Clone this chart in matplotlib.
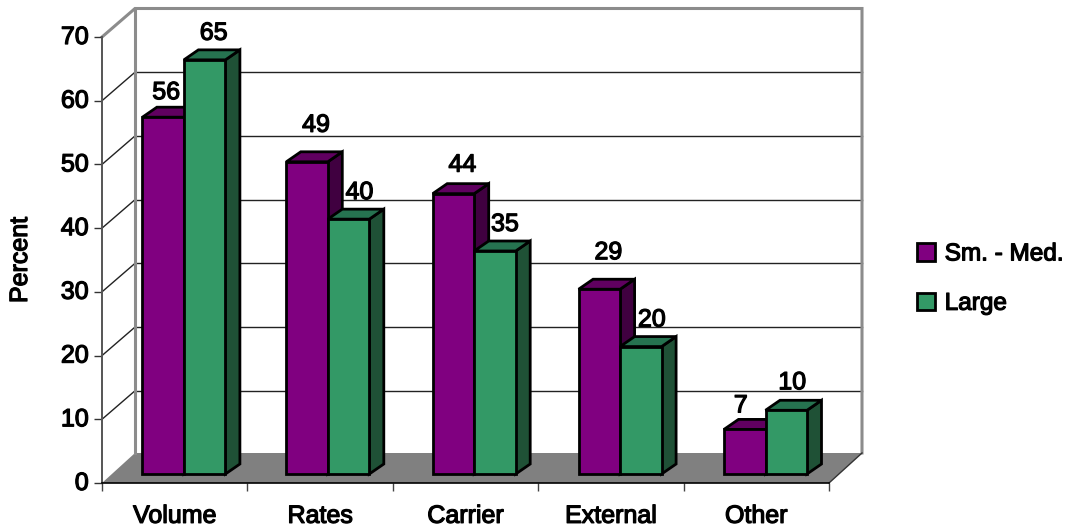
import matplotlib
matplotlib.use("Agg")
import matplotlib.pyplot as plt
from matplotlib.patches import Polygon, Rectangle, Patch
from matplotlib.text import Text
from matplotlib.transforms import ScaledTranslation
import matplotlib.patheffects as pe

# Survey results by category and company size
categories = ["Volume", "Rates", "Carrier", "External", "Other"]
small_medium = [56, 49, 44, 29, 7]
large = [65, 40, 35, 20, 10]
series_names = ["Sm. - Med.", "Large"]
y_ticks = [0, 10, 20, 30, 40, 50, 60, 70]

W, H = 1066, 529
plt.rcParams["font.family"] = ["Liberation Sans", "DejaVu Sans"]

fig = plt.figure(figsize=(W / 100, H / 100), dpi=100, facecolor="white")
ax = fig.add_axes([102 / W, (H - 483) / H, 727 / W, 446 / H])
ax.set_xlim(0, 5)
ax.set_ylim(0, 70)
ax.patch.set_alpha(0)

PX = 727 / 5      # pixels per category
PY = 446 / 70     # pixels per percent
WALL_DX, WALL_DY = 33 / PX, 28.5 / PY
FLOOR_DY = 30 / PY
BAR_OX, BAR_OY = 9.2 / PX, 9 / PY
BAR_DX, BAR_DY = 14.5 / PX, 10 / PY
BAR_W = 41.5 / PX
EDGE = "black"

# Floor and walls of the 3D box
ax.add_patch(Polygon([(0, 0), (WALL_DX, FLOOR_DY), (5 + WALL_DX, FLOOR_DY), (5, 0)],
                     closed=True, fc="#808080", ec="none", clip_on=False, zorder=1))
ax.plot([5, 5 + WALL_DX], [0, FLOOR_DY], color="#333333", lw=1, clip_on=False, zorder=2)
for v in y_ticks[1:-1]:
    ax.plot([WALL_DX, 5 + WALL_DX], [v + WALL_DY] * 2, color="#222222", lw=1,
            clip_on=False, zorder=1)
    ax.plot([0, WALL_DX], [v, v + WALL_DY], color="#222222", lw=1, clip_on=False, zorder=1)
WALL = "#8c8c8c"
ax.plot([0, WALL_DX, 5 + WALL_DX, 5 + WALL_DX],
        [70, 70 + WALL_DY, 70 + WALL_DY, FLOOR_DY],
        color=WALL, lw=2.2, clip_on=False, zorder=1, solid_joinstyle="miter")
ax.plot([WALL_DX, WALL_DX], [FLOOR_DY, 70 + WALL_DY], color=WALL, lw=2.2,
        clip_on=False, zorder=1)


def draw_bar(x0, value, front, top, side):
    x1 = x0 + BAR_W
    y0, y1 = BAR_OY, BAR_OY + value
    common = dict(ec=EDGE, lw=2.0, clip_on=False, zorder=3, joinstyle="miter")
    ax.add_patch(Polygon([(x1, y0), (x1 + BAR_DX, y0 + BAR_DY),
                          (x1 + BAR_DX, y1 + BAR_DY), (x1, y1)], closed=True, fc=side, **common))
    ax.add_patch(Polygon([(x0, y1), (x0 + BAR_DX, y1 + BAR_DY),
                          (x1 + BAR_DX, y1 + BAR_DY), (x1, y1)], closed=True, fc=top, **common))
    ax.add_patch(Rectangle((x0, y0), BAR_W, value, fc=front, **common))


# Small per-label nudges in pixels, keeping numbers clear of neighbouring bars
nudge_a = [(3, -25), (9, -37), (9, -29), (9, -37), (-4, -24)]
nudge_b = [(9, -27), (11, -27), (10, -27), (11, -27), (6, -28)]
# Sideways shift of each category's bar pair, in pixels
group_shift = [0, -1.5, -0.5, 0, 0]

for i, (a, b) in enumerate(zip(small_medium, large)):
    x_left = i + 0.5 + BAR_OX - BAR_W + group_shift[i] / PX
    draw_bar(x_left, a, "#800080", "#600060", "#400040")
    draw_bar(x_left + BAR_W, b, "#339966", "#267350", "#1f5136")
    for val, x_c, (nx, ny) in ((a, x_left + BAR_W / 2, nudge_a[i]),
                               (b, x_left + 1.5 * BAR_W, nudge_b[i])):
        ax.annotate(str(val), (x_c, BAR_OY + val), xytext=(nx * 0.72, -ny * 0.72),
                    textcoords="offset points", ha="center", va="center",
                    fontsize=18, color="black", zorder=5, annotation_clip=False)

# Axes, ticks and labels
for s in ("top", "right"):
    ax.spines[s].set_visible(False)
ax.spines["left"].set_color("#555555")
ax.spines["left"].set_linewidth(1.4)
ax.spines["bottom"].set_color("black")
ax.spines["bottom"].set_linewidth(1.2)
ax.set_yticks(y_ticks)
ax.set_yticklabels([str(v) for v in y_ticks], fontsize=18)
ax.tick_params(axis="y", length=5.5, width=1, pad=4, color="#333333")
lift = ScaledTranslation(0, 2.5 / 100, fig.dpi_scale_trans)
for lab in ax.get_yticklabels():
    lab.set_transform(lab.get_transform() + lift)
ax.set_xticks(range(6))
ax.set_xticklabels([""] * 6)
ax.tick_params(axis="x", which="major", length=6, width=1, color="#444444")
ax.set_xticks([i + 0.5 for i in range(5)], minor=True)
ax.set_xticklabels(categories, minor=True, fontsize=18)
ax.tick_params(axis="x", which="minor", length=0, pad=15)

fig.text(20 / W, 1 - 260 / H, "Percent", rotation=90, ha="center", va="center", fontsize=18)

handles = [Patch(fc="#800080", ec="black", lw=2), Patch(fc="#339966", ec="black", lw=2)]
fig.legend(handles, series_names, loc="center left", bbox_to_anchor=(917 / W, 1 - 279 / H),
           frameon=False, fontsize=17.5, handlelength=0.72, handleheight=0.72,
           handletextpad=0.42, labelspacing=1.12, borderpad=0, borderaxespad=0)

# Slightly heavier strokes on all lettering
for t in fig.findobj(Text):
    t.set_path_effects([pe.withStroke(linewidth=0.9, foreground="black")])

fig.savefig("out.png", dpi=100)
